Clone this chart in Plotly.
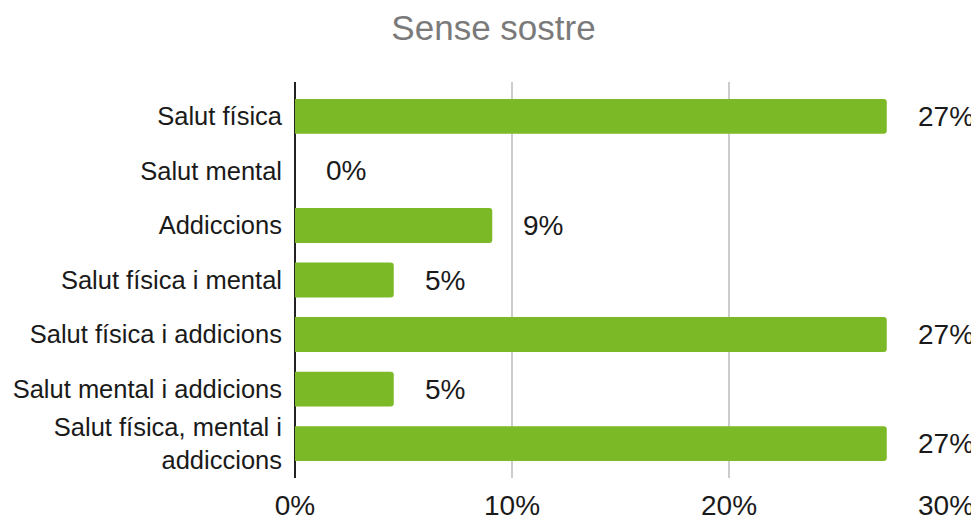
import plotly.graph_objects as go

categories = [
    "Salut física",
    "Salut mental",
    "Addiccions",
    "Salut física i mental",
    "Salut física i addicions",
    "Salut mental i addicions",
    "Salut física, mental i<br>addiccions",
]
values = [27.27, 0.0, 9.09, 4.55, 27.27, 4.55, 27.27]
labels = [f"{round(v)}%" for v in values]
x_ticks = [0, 10, 20, 30]
x_tick_labels = ["0%", "10%", "20%", "30%"]
title_text = "Sense sostre"

FONT = "Liberation Sans, Arial, sans-serif"
GREEN = "#7CB927"

fig = go.Figure()
fig.add_trace(go.Bar(
    x=values,
    y=categories,
    orientation="h",
    marker=dict(color=GREEN, line=dict(width=0)),
    hoverinfo="skip",
))

for c, v, lab in zip(categories, values, labels):
    fig.add_annotation(
        x=v, y=c, xref="x", yref="y",
        text=lab, showarrow=False,
        xanchor="left", yanchor="middle", xshift=29,
        font=dict(family=FONT, size=28, color="#1a1a1a"),
    )

fig.update_layout(
    width=971, height=514,
    margin=dict(l=287, r=33, t=74, b=44, autoexpand=False),
    paper_bgcolor="white", plot_bgcolor="white",
    showlegend=False,
    bargap=0.36,
    barcornerradius=3,
    title=dict(
        text=title_text, x=0.5, xref="container", xanchor="center",
        y=1 - 20 / 514, yref="container", yanchor="middle",
        font=dict(family=FONT, size=35, color="#7a7a7a"),
    ),
    xaxis=dict(
        range=[0, 30],
        tickvals=x_ticks, ticktext=x_tick_labels,
        showgrid=True, gridcolor="#cccccc", gridwidth=2,
        zeroline=True, zerolinecolor="#222222", zerolinewidth=2,
        showline=False, ticks="",
        ticklabelstandoff=8,
        automargin=False,
        tickfont=dict(family=FONT, size=28, color="#1a1a1a"),
        fixedrange=True,
    ),
    yaxis=dict(
        range=[6.63, -0.63],
        showgrid=False, zeroline=False, showline=False, ticks="",
        ticklabelstandoff=12,
        automargin=False,
        tickfont=dict(family=FONT, size=25.5, color="#1a1a1a"),
        fixedrange=True,
    ),
)

fig.write_html("out.html")
